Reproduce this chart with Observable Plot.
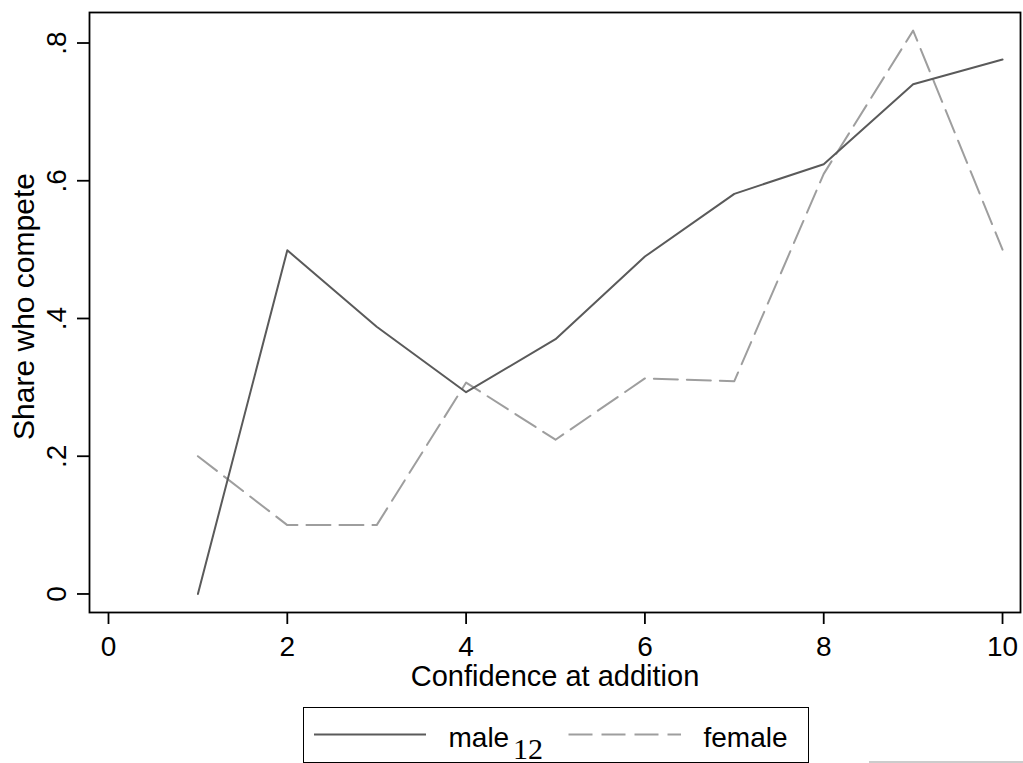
<!DOCTYPE html>
<html>
<head>
<meta charset="utf-8">
<script src="https://cdn.jsdelivr.net/npm/d3@7"></script>
<script src="https://cdn.jsdelivr.net/npm/@observablehq/plot@0.6"></script>
<style>
  html, body { margin: 0; padding: 0; background: #fff; }
  #wrap { position: relative; width: 1023px; height: 763px; overflow: hidden; font-family: "Liberation Sans", Arial, sans-serif; }
  #chart { position: absolute; left: 0; top: 0; }
  #legend { position: absolute; left: 303px; top: 707px; width: 506px; height: 56px; border: 1.5px solid #000; box-sizing: border-box; background: #fff; }
  #legend svg { position: absolute; left: 0; top: 0; }
  #overlay { position: absolute; left: 0; top: 0; pointer-events: none; }
  #rule { position: absolute; left: 869px; top: 761px; width: 154px; height: 2px; background: #ccc; }
</style>
</head>
<body>
<div id="wrap">
  <div id="chart"></div>
  <div id="legend"></div>
  <div id="rule"></div>
</div>
<script>
// ---- data ----
const confidence = [1, 2, 3, 4, 5, 6, 7, 8, 9, 10];
const maleShare = [0, 0.499, 0.388, 0.293, 0.37, 0.49, 0.581, 0.624, 0.74, 0.776];
const femaleShare = [0.2, 0.1, 0.1, 0.307, 0.224, 0.313, 0.309, 0.61, 0.818, 0.5];
const xTicks = [0, 2, 4, 6, 8, 10];
const yTicks = [0, 0.2, 0.4, 0.6, 0.8];
const seriesNames = ["male", "female"];
const xTitle = "Confidence at addition";
const yTitle = "Share who compete";
const pageNumber = "12";

const male = confidence.map((c, i) => ({x: c, y: maleShare[i]}));
const female = confidence.map((c, i) => ({x: c, y: femaleShare[i]}));

const fmtY = d => d === 0 ? "0" : String(d).replace(/^0/, "");
const FONT = "Liberation Sans, Arial, sans-serif";
const maleColor = "#5a5a5a";
const femaleColor = "#9e9e9e";
const dash = "24,9";

const chart = Plot.plot({
  width: 1023,
  height: 700,
  marginLeft: 89,
  marginRight: 3,
  marginTop: 12,
  marginBottom: 88,
  style: {fontFamily: FONT, fontSize: "28px", color: "#000", background: "#fff"},
  x: {domain: [-0.2125, 10.201]},
  y: {domain: [-0.0269, 0.8443]},
  marks: [
    Plot.axisX({ticks: xTicks, tickSize: 12, tickPadding: 12, strokeWidth: 1.8, fontSize: 28, label: null, tickFormat: d => String(d)}),
    Plot.axisY({ticks: yTicks, tickSize: 12, strokeWidth: 1.8, tickFormat: () => "", label: null}),
    Plot.text(yTicks, {y: d => d, text: fmtY, frameAnchor: "left", dx: -32, rotate: -90, fontSize: 28, textAnchor: "middle", lineAnchor: "middle", fill: "#000"}),
    Plot.text([yTitle], {text: d => d, frameAnchor: "left", dx: -65, dy: -6, rotate: -90, fontSize: 30, textAnchor: "middle", lineAnchor: "middle", fill: "#000"}),
    Plot.text([xTitle], {text: d => d, frameAnchor: "bottom", dy: 64, fontSize: 29, textAnchor: "middle", lineAnchor: "middle", fill: "#000"}),
    Plot.line(female, {x: "x", y: "y", stroke: femaleColor, strokeWidth: 2, strokeDasharray: dash}),
    Plot.line(male, {x: "x", y: "y", stroke: maleColor, strokeWidth: 2}),
    Plot.frame({stroke: "#000", strokeWidth: 1.8})
  ]
});
document.getElementById("chart").appendChild(chart);

// ---- legend ----
const lg = d3.select("#legend").append("svg").attr("width", 506).attr("height", 56);
lg.append("line").attr("x1", 10).attr("x2", 122).attr("y1", 26.5).attr("y2", 26.5)
  .attr("stroke", maleColor).attr("stroke-width", 2);
lg.append("text").attr("x", 144.5).attr("y", 38.5).text(seriesNames[0])
  .attr("font-family", FONT).attr("font-size", 28);
lg.append("line").attr("x1", 264.5).attr("x2", 377).attr("y1", 26.5).attr("y2", 26.5)
  .attr("stroke", femaleColor).attr("stroke-width", 2).attr("stroke-dasharray", dash);
lg.append("text").attr("x", 399.5).attr("y", 38.5).text(seriesNames[1])
  .attr("font-family", FONT).attr("font-size", 28);

// page number printed over the legend, as in the source
const ov = d3.select("#wrap").append("svg").attr("id", "overlay").attr("width", 1023).attr("height", 763);
ov.append("text").attr("x", 513).attr("y", 759).text(pageNumber)
  .attr("font-family", "Liberation Serif, Times New Roman, serif").attr("font-size", 30).attr("fill", "#000");
</script>
</body>
</html>
